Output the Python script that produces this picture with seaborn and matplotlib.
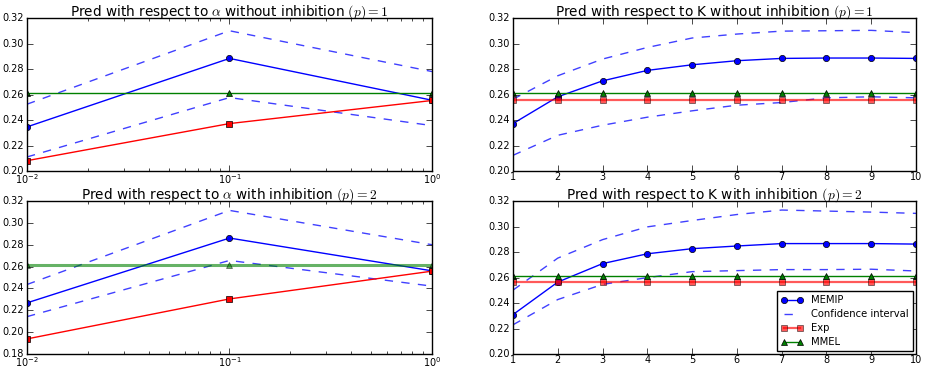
import numpy as np
import pandas as pd
import matplotlib
matplotlib.use("Agg")
import matplotlib.pyplot as plt
import seaborn as sns

plt.style.use("classic")

alpha_vals = [0.01, 0.1, 1.0]
k_vals = [1, 2, 3, 4, 5, 6, 7, 8, 9, 10]

# alpha, without inhibition (p=1)
a1_memip = [0.2346, 0.2883, 0.2555]
a1_upper = [0.2524, 0.3100, 0.2780]
a1_lower = [0.2110, 0.2576, 0.2356]
a1_exp = [0.2081, 0.2372, 0.2553]
a1_mmel = [0.2613, 0.2613, 0.2613]

# K, without inhibition (p=1)
k1_memip = [0.2372, 0.2582, 0.2707, 0.2789, 0.2833, 0.2865, 0.2883, 0.2886, 0.2886, 0.2883]
k1_upper = [0.2563, 0.2747, 0.2878, 0.2969, 0.3043, 0.3074, 0.3097, 0.3100, 0.3103, 0.3085]
k1_lower = [0.2123, 0.2280, 0.2359, 0.2422, 0.2472, 0.2516, 0.2537, 0.2574, 0.2582, 0.2574]
k1_exp = [0.2553] * 10
k1_mmel = [0.2613] * 10

# alpha, with inhibition (p=2)
a2_memip = [0.2268, 0.2861, 0.2561]
a2_upper = [0.2436, 0.3114, 0.2800]
a2_lower = [0.2142, 0.2656, 0.2421]
a2_exp = [0.1938, 0.2304, 0.2558]
a2_mmel = [0.2610, 0.2610, 0.2610]

# K, with inhibition (p=2)
k2_memip = [0.2309, 0.2564, 0.2709, 0.2786, 0.2826, 0.2847, 0.2866, 0.2866, 0.2866, 0.2862]
k2_upper = [0.2501, 0.2752, 0.2897, 0.2997, 0.3047, 0.3094, 0.3129, 0.3121, 0.3113, 0.3103]
k2_lower = [0.2229, 0.2427, 0.2546, 0.2599, 0.2646, 0.2654, 0.2662, 0.2662, 0.2665, 0.2651]
k2_exp = [0.2564] * 10
k2_mmel = [0.2612] * 10

titles = [
    r"Pred with respect to $\alpha$ without inhibition $(p)=1$",
    r"Pred with respect to K without inhibition $(p)=1$",
    r"Pred with respect to $\alpha$ with inhibition $(p)=2$",
    r"Pred with respect to K with inhibition $(p)=2$",
]

fig = plt.figure(figsize=(9.28, 3.68), dpi=100, facecolor="white")

W, H = 928.0, 368.0
ax1 = fig.add_axes([27 / W, (H - 171) / H, 405 / W, 153 / H])
ax2 = fig.add_axes([513 / W, (H - 171) / H, 403 / W, 153 / H])
ax3 = fig.add_axes([27 / W, (H - 354) / H, 405 / W, 153 / H])
ax4 = fig.add_axes([513 / W, (H - 354) / H, 403 / W, 153 / H])


def draw(ax, x, memip, upper, lower, exp, mmel, exp_alpha=1.0, mmel_lw=1.0, mmel_alpha=1.0, labels=False):
    lab = (lambda s: s) if labels else (lambda s: "_nolegend_")
    sns.lineplot(x=x, y=memip, ax=ax, color="b", marker="o", markersize=4.5,
                 markeredgecolor="k", markeredgewidth=0.5, lw=1, legend=False, label=lab("MEMIP"))
    sns.lineplot(x=x, y=upper, ax=ax, color="b", ls="--", lw=1, alpha=0.75,
                 legend=False, label=lab("Confidence interval"))
    sns.lineplot(x=x, y=lower, ax=ax, color="b", ls="--", lw=1, alpha=0.75,
                 legend=False, label="_nolegend_")
    sns.lineplot(x=x, y=exp, ax=ax, color="r", marker="s", markersize=4.5,
                 markeredgecolor="k", markeredgewidth=0.5, lw=1 if exp_alpha == 1.0 else 1.6,
                 alpha=exp_alpha, legend=False, label=lab("Exp"))
    sns.lineplot(x=x, y=mmel, ax=ax, color="g", marker="^", markersize=4.5,
                 markeredgecolor="k", markeredgewidth=0.5, lw=mmel_lw, alpha=mmel_alpha,
                 legend=False, label=lab("MMEL"))


draw(ax1, alpha_vals, a1_memip, a1_upper, a1_lower, a1_exp, a1_mmel)
draw(ax2, k_vals, k1_memip, k1_upper, k1_lower, k1_exp, k1_mmel, exp_alpha=0.65)
draw(ax3, alpha_vals, a2_memip, a2_upper, a2_lower, a2_exp, a2_mmel, mmel_lw=2.2, mmel_alpha=0.6)
draw(ax4, k_vals, k2_memip, k2_upper, k2_lower, k2_exp, k2_mmel, exp_alpha=0.65, labels=True)

for ax in [ax1, ax3]:
    ax.set_xscale("log")
    ax.set_xlim(0.01, 1)
for ax in [ax2, ax4]:
    ax.set_xlim(1, 10)
    ax.set_xticks(k_vals)

ax1.set_ylim(0.20, 0.32)
ax2.set_ylim(0.20, 0.32)
ax3.set_ylim(0.18, 0.32)
ax4.set_ylim(0.20, 0.32)

for ax, t in zip([ax1, ax2, ax3, ax4], titles):
    ax.set_yticks(np.arange(ax.get_ylim()[0], 0.3201, 0.02))
    ax.yaxis.set_major_formatter(matplotlib.ticker.FormatStrFormatter("%.2f"))
    ax.set_title(t, fontsize=9.8, pad=2)
    ax.tick_params(labelsize=7, pad=2)
    ax.tick_params(axis="x", pad=1)
    ax.set_xlabel("")
    ax.set_ylabel("")

ax4.legend(loc="lower right", fontsize=7.2, numpoints=2, fancybox=False, borderaxespad=0.3,
           handlelength=2.2, labelspacing=0.4)

fig.savefig("out.png", dpi=100, facecolor="white")
